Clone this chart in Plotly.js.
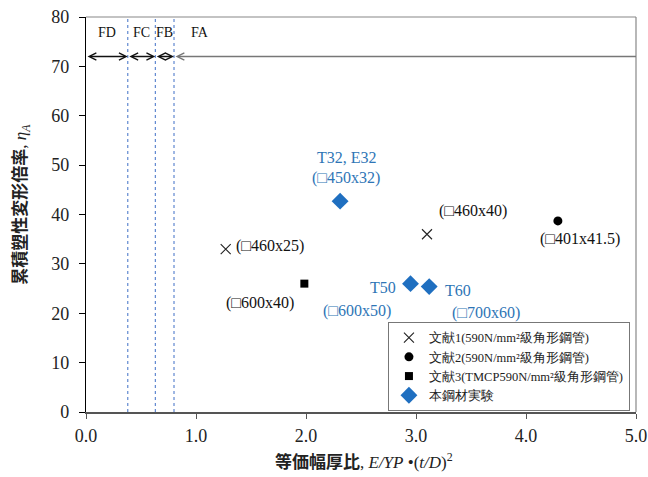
<!DOCTYPE html>
<html><head><meta charset="utf-8">
<script src="https://cdn.plot.ly/plotly-3.0.1.min.js"></script>
<style>body{margin:0;background:#fff}#chart{width:648px;height:477px}</style>
</head><body><div id="chart"></div>
<script>
// Data
const ref1X = [1.27, 3.10];
const ref1Y = [33.0, 36.0];
const ref1Labels = ['(□460x25)', '(□460x40)'];
const ref2X = [4.29];
const ref2Y = [38.7];
const ref2Labels = ['(□401x41.5)'];
const ref3X = [1.985];
const ref3Y = [26.0];
const ref3Labels = ['(□600x40)'];
const testX = [2.31, 2.95, 3.12];
const testY = [42.7, 26.0, 25.4];
const testNames = ['T32, E32', 'T50', 'T60'];
const testSizes = ['(□450x32)', '(□600x50)', '(□700x60)'];
const seriesNames = ['文献1(590N/mm²級角形鋼管)', '文献2(590N/mm²級角形鋼管)', '文献3(TMCP590N/mm²級角形鋼管)', '本鋼材実験'];
const bounds = [0.38, 0.63, 0.80];
const zoneNames = ['FD', 'FC', 'FB', 'FA'];
const zoneLabelX = [0.19, 0.505, 0.715, 1.04];
const arrowY = 72;
const zoneLabelY = 76.8;

const serif = 'Liberation Serif, Times New Roman, serif';
const blueText = '#2E75B6';
const blueMark = '#1F6FC0';

const traces = [
  {x: ref1X, y: ref1Y, name: seriesNames[0], mode: 'markers', type: 'scatter',
   marker: {symbol: 'x-thin-open', size: 10, color: '#222', line: {width: 1.1, color: '#222'}}},
  {x: ref2X, y: ref2Y, name: seriesNames[1], mode: 'markers', type: 'scatter',
   marker: {symbol: 'circle', size: 9, color: '#000'}},
  {x: ref3X, y: ref3Y, name: seriesNames[2], mode: 'markers', type: 'scatter',
   marker: {symbol: 'square', size: 8, color: '#000'}},
  {x: testX, y: testY, name: seriesNames[3], mode: 'markers', type: 'scatter',
   marker: {symbol: 'diamond', size: 13, color: blueMark}}
];

const ann = [];
function lab(x, y, text, xs, ys, color, anchor) {
  ann.push({x: x, y: y, xref: 'x', yref: 'y', text: text, showarrow: false,
    xshift: xs, yshift: ys, xanchor: anchor || 'center', yanchor: 'middle',
    font: {family: serif, size: 16, color: color}});
}
lab(ref1X[0], ref1Y[0], ref1Labels[0], 8, 3, '#111', 'left');
lab(ref1X[1], ref1Y[1], ref1Labels[1], 46, 23, '#111');
lab(ref2X[0], ref2Y[0], ref2Labels[0], 22, -18, '#111');
lab(ref3X[0], ref3Y[0], ref3Labels[0], -44, -19, '#111');
lab(testX[0], testY[0], testNames[0], 7, 44, blueText);
lab(testX[0], testY[0], testSizes[0], 6, 23, blueText);
lab(testX[1], testY[1], testNames[1], -13, -4, blueText, 'right');
lab(testX[1], testY[1], testSizes[1], -54, -27, blueText);
lab(testX[2], testY[2], testNames[2], 29, -4, blueText);
lab(testX[2], testY[2], testSizes[2], 57, -26, blueText);

// zone labels
zoneNames.forEach((n, i) => {
  ann.push({x: zoneLabelX[i], y: zoneLabelY, xref: 'x', yref: 'y', text: n, showarrow: false,
    font: {family: serif, size: 14, color: '#111'}});
});
// zone arrows
const edges = [0].concat(bounds);
for (let i = 0; i < 3; i++) {
  ann.push({x: edges[i + 1], y: arrowY, ax: edges[i], ay: arrowY, xref: 'x', yref: 'y', axref: 'x', ayref: 'y',
    text: '', showarrow: true, arrowside: 'end+start', arrowhead: 5, startarrowhead: 5,
    arrowsize: 1.1, startarrowsize: 1.1, arrowwidth: 1.3, arrowcolor: '#111'});
}
ann.push({x: 5.0, y: arrowY, ax: bounds[2], ay: arrowY, xref: 'x', yref: 'y', axref: 'x', ayref: 'y',
  text: '', showarrow: true, arrowside: 'start', startarrowhead: 5, startarrowsize: 1.1,
  arrowwidth: 1.3, arrowcolor: '#777'});

// axis titles
ann.push({xref: 'paper', yref: 'paper', x: -0.12, y: 0.525, textangle: -90, showarrow: false,
  xanchor: 'center', yanchor: 'middle',
  text: '<b>累積塑性変形倍率</b><span style="font-family:Liberation Serif">, <i>η<sub>A</sub></i></span>',
  font: {family: 'Noto Sans CJK JP', size: 17, color: '#222'}});
ann.push({xref: 'paper', yref: 'paper', x: 0.505, y: -0.122, showarrow: false,
  xanchor: 'center', yanchor: 'middle',
  text: '<b>等価幅厚比</b><span style="font-family:Liberation Serif">, <i>E/YP</i> •(<i>t/D</i>)<sup>2</sup></span>',
  font: {family: 'Noto Sans CJK JP', size: 17, color: '#222'}});

const shapes = [];
bounds.forEach(b => shapes.push({type: 'line', xref: 'x', yref: 'y', x0: b, x1: b, y0: 0, y1: 80,
  line: {color: '#3F6FC6', width: 1, dash: 'dot'}}));
// top and right frame
shapes.push({type: 'line', xref: 'paper', yref: 'paper', x0: 0, x1: 1, y0: 1, y1: 1, line: {color: '#888', width: 1.2}});
shapes.push({type: 'line', xref: 'paper', yref: 'paper', x0: 1, x1: 1, y0: 0, y1: 1, line: {color: '#888', width: 1.2}});

const layout = {
  width: 648, height: 477,
  margin: {l: 86, r: 12, t: 17, b: 65},
  paper_bgcolor: '#fff', plot_bgcolor: '#fff',
  showlegend: true,
  legend: {x: 0.549, y: 0.228, xanchor: 'left', yanchor: 'top', bgcolor: '#fff',
    bordercolor: '#777', borderwidth: 1, font: {family: serif, size: 12.5, color: '#222'},
    itemwidth: 30, tracegroupgap: 0},
  xaxis: {range: [0, 5], dtick: 1, tickformat: '.1f', showgrid: false, zeroline: false,
    showline: true, linecolor: '#555', linewidth: 1.5, ticks: 'outside', ticklen: 5, tickcolor: '#555',
    ticklabelstandoff: 2,
    tickfont: {family: serif, size: 18, color: '#222'}},
  yaxis: {range: [0, 80], dtick: 10, showgrid: false, zeroline: false,
    showline: true, linecolor: '#000', linewidth: 1.2, ticks: 'outside', ticklen: 6, tickcolor: '#000',
    ticklabelstandoff: 6,
    tickfont: {family: serif, size: 18, color: '#222'}},
  annotations: ann,
  shapes: shapes
};

Plotly.newPlot('chart', traces, layout, {displayModeBar: false, staticPlot: true});
</script></body></html>
